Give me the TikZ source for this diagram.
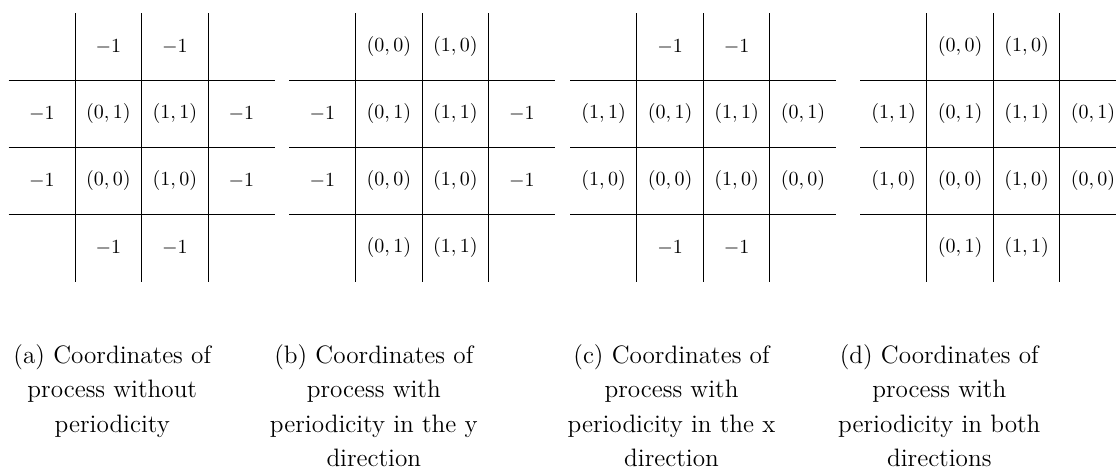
\documentclass[tikz,border=0pt]{standalone}
\usepackage{amsmath}
\usepackage{tikz}

\begin{document}
\begin{tikzpicture}[
  grid/.style = {line width=0.5pt},
  val/.style  = {inner sep=1pt, font=\normalsize},
  capt/.style = {anchor=north, align=center, inner sep=0pt,
                 font=\fontsize{12.6}{17.25}\selectfont},
  panel/.style = {x=1.168cm, y=1.18cm}
]
\useasboundingbox (0,0) rectangle (19.611,8.224);

% (a) no periodicity
\begin{scope}[shift={(2.488,5.637)}, panel]
  \foreach \k in {-1,0,1} {
    \draw[grid] (\k,-2) -- (\k,2);
    \draw[grid] (-2,\k) -- (2,\k);
  }
  \node[val] (a01) at (-0.5, 1.5) {$-1$};
  \node[val] (a02) at ( 0.5, 1.5) {$-1$};
  \node[val] (a10) at (-1.5, 0.5) {$-1$};
  \node[val] (a11) at (-0.5, 0.5) {$(0,1)$};
  \node[val] (a12) at ( 0.5, 0.5) {$(1,1)$};
  \node[val] (a13) at ( 1.5, 0.5) {$-1$};
  \node[val] (a20) at (-1.5,-0.5) {$-1$};
  \node[val] (a21) at (-0.5,-0.5) {$(0,0)$};
  \node[val] (a22) at ( 0.5,-0.5) {$(1,0)$};
  \node[val] (a23) at ( 1.5,-0.5) {$-1$};
  \node[val] (a31) at (-0.5,-1.5) {$-1$};
  \node[val] (a32) at ( 0.5,-1.5) {$-1$};
\end{scope}

% (b) periodic in y
\begin{scope}[shift={(7.418,5.637)}, panel]
  \foreach \k in {-1,0,1} {
    \draw[grid] (\k,-2) -- (\k,2);
    \draw[grid] (-2,\k) -- (2,\k);
  }
  \node[val] (b01) at (-0.5, 1.5) {$(0,0)$};
  \node[val] (b02) at ( 0.5, 1.5) {$(1,0)$};
  \node[val] (b10) at (-1.5, 0.5) {$-1$};
  \node[val] (b11) at (-0.5, 0.5) {$(0,1)$};
  \node[val] (b12) at ( 0.5, 0.5) {$(1,1)$};
  \node[val] (b13) at ( 1.5, 0.5) {$-1$};
  \node[val] (b20) at (-1.5,-0.5) {$-1$};
  \node[val] (b21) at (-0.5,-0.5) {$(0,0)$};
  \node[val] (b22) at ( 0.5,-0.5) {$(1,0)$};
  \node[val] (b23) at ( 1.5,-0.5) {$-1$};
  \node[val] (b31) at (-0.5,-1.5) {$(0,1)$};
  \node[val] (b32) at ( 0.5,-1.5) {$(1,1)$};
\end{scope}

% (c) periodic in x
\begin{scope}[shift={(12.359,5.637)}, panel]
  \foreach \k in {-1,0,1} {
    \draw[grid] (\k,-2) -- (\k,2);
    \draw[grid] (-2,\k) -- (2,\k);
  }
  \node[val] (c01) at (-0.5, 1.5) {$-1$};
  \node[val] (c02) at ( 0.5, 1.5) {$-1$};
  \node[val] (c10) at (-1.5, 0.5) {$(1,1)$};
  \node[val] (c11) at (-0.5, 0.5) {$(0,1)$};
  \node[val] (c12) at ( 0.5, 0.5) {$(1,1)$};
  \node[val] (c13) at ( 1.5, 0.5) {$(0,1)$};
  \node[val] (c20) at (-1.5,-0.5) {$(1,0)$};
  \node[val] (c21) at (-0.5,-0.5) {$(0,0)$};
  \node[val] (c22) at ( 0.5,-0.5) {$(1,0)$};
  \node[val] (c23) at ( 1.5,-0.5) {$(0,0)$};
  \node[val] (c31) at (-0.5,-1.5) {$-1$};
  \node[val] (c32) at ( 0.5,-1.5) {$-1$};
\end{scope}

% (d) periodic in both
\begin{scope}[shift={(17.455,5.637)}, panel]
  \foreach \k in {-1,0,1} {
    \draw[grid] (\k,-2) -- (\k,2);
    \draw[grid] (-2,\k) -- (2,\k);
  }
  \node[val] (d01) at (-0.5, 1.5) {$(0,0)$};
  \node[val] (d02) at ( 0.5, 1.5) {$(1,0)$};
  \node[val] (d10) at (-1.5, 0.5) {$(1,1)$};
  \node[val] (d11) at (-0.5, 0.5) {$(0,1)$};
  \node[val] (d12) at ( 0.5, 0.5) {$(1,1)$};
  \node[val] (d13) at ( 1.5, 0.5) {$(0,1)$};
  \node[val] (d20) at (-1.5,-0.5) {$(1,0)$};
  \node[val] (d21) at (-0.5,-0.5) {$(0,0)$};
  \node[val] (d22) at ( 0.5,-0.5) {$(1,0)$};
  \node[val] (d23) at ( 1.5,-0.5) {$(0,0)$};
  \node[val] (d31) at (-0.5,-1.5) {$(0,1)$};
  \node[val] (d32) at ( 0.5,-1.5) {$(1,1)$};
\end{scope}

% captions
\node[capt] (capa) at (1.973,2.182)  {(a) Coordinates of\\process without\\periodicity};
\node[capt] (capb) at (6.569,2.182)  {(b) Coordinates of\\process with\\periodicity in the y\\direction};
\node[capt] (capc) at (11.800,2.182) {(c) Coordinates of\\process with\\periodicity in the x\\direction};
\node[capt] (capd) at (16.506,2.182) {(d) Coordinates of\\process with\\periodicity in both\\directions};
\end{tikzpicture}
\end{document}
